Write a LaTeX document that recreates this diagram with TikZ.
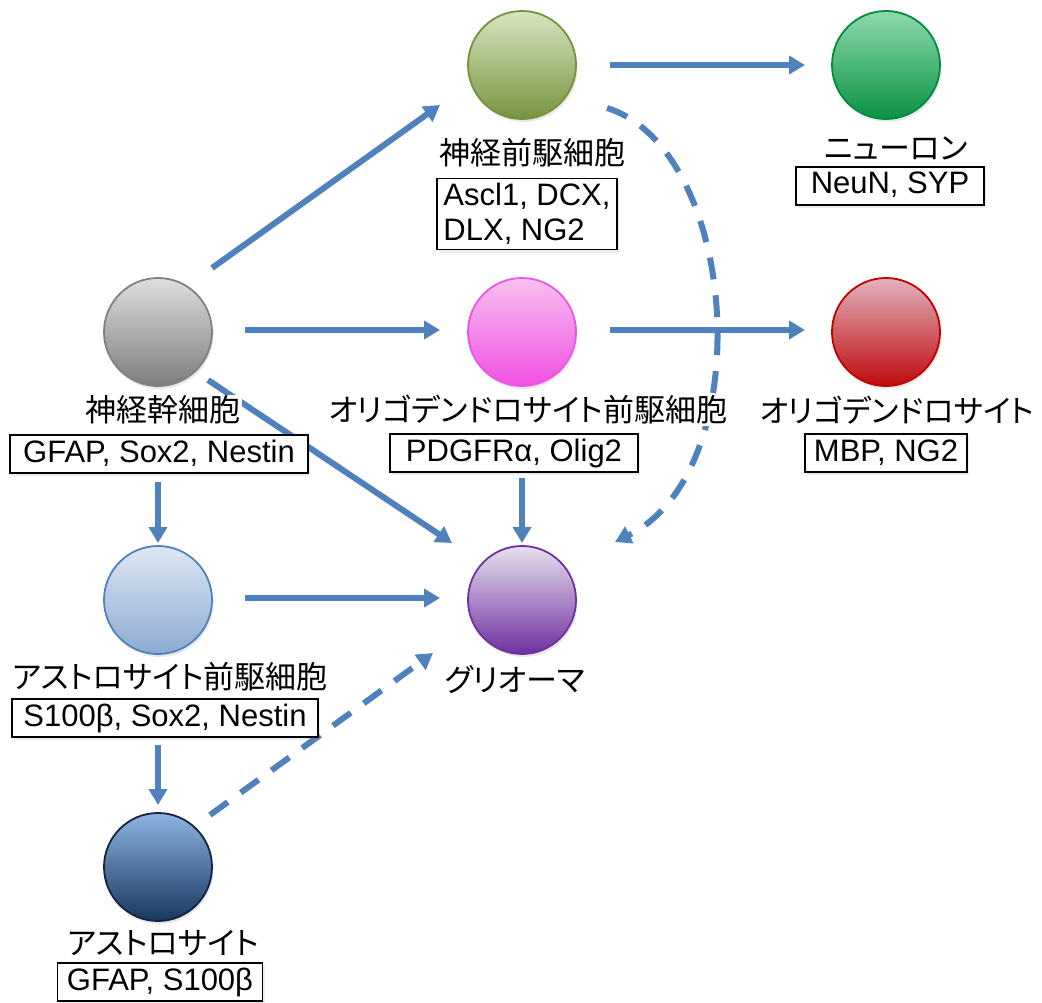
\documentclass[tikz,border=0pt]{standalone}
\usepackage{fontspec}
\setmainfont{Liberation Sans}
\newfontfamily\jp[RawFeature=+palt]{Noto Sans CJK JP}
\usetikzlibrary{arrows.meta,calc,shadows,backgrounds}
\definecolor{arrowblue}{RGB}{79,129,189}
\begin{document}
\begin{tikzpicture}[x=1pt,y=-1pt,
  cell/.style={circle, minimum size=108pt, inner sep=0pt, line width=1.8pt,
    drop shadow={shadow xshift=1.5pt,shadow yshift=-3pt,opacity=0.18}},
  lbl/.style={font=\jp\fontsize{31}{36}\selectfont, fill=white, inner sep=1pt},
  mbox/.style={draw, line width=1.5pt, fill=white, font=\fontsize{31}{35}\selectfont,
    inner xsep=6pt, inner ysep=4pt, text height=23pt, text depth=7pt,
    drop shadow={shadow xshift=2pt,shadow yshift=-3pt,opacity=0.15}},
  mbox2/.style={draw, line width=1.5pt, fill=white, font=\fontsize{31}{35}\selectfont,
    inner xsep=6pt, inner ysep=5pt, align=left,
    drop shadow={shadow xshift=2pt,shadow yshift=-3pt,opacity=0.15}},
  conn/.style={draw=arrowblue, line width=6pt, -{Triangle[length=16pt,width=18pt]}},
  dconn/.style={conn, dash pattern=on 22pt off 16pt}]
\useasboundingbox (0,0) rectangle (1042,1003);

% cells
\node[cell, top color={rgb,255:red,222;green,222;blue,222}, bottom color={rgb,255:red,125;green,125;blue,125}, draw={rgb,255:red,128;green,128;blue,128}] (stem) at (158,332) {};
\node[cell, top color={rgb,255:red,216;green,229;blue,192}, bottom color={rgb,255:red,118;green,148;blue,62}, draw={rgb,255:red,118;green,146;blue,60}] (npc) at (522,65) {};
\node[cell, top color={rgb,255:red,142;green,218;blue,172}, bottom color={rgb,255:red,10;green,146;blue,68}, draw={rgb,255:red,0;green,140;blue,62}] (neuron) at (886,65) {};
\node[cell, top color={rgb,255:red,248;green,192;blue,240}, bottom color={rgb,255:red,240;green,80;blue,226}, draw={rgb,255:red,236;green,84;blue,228}] (opc) at (522,332) {};
\node[cell, top color={rgb,255:red,226;green,178;blue,188}, bottom color={rgb,255:red,190;green,10;blue,14}, draw={rgb,255:red,192;green,0;blue,0}] (oligo) at (886,332) {};
\node[cell, top color={rgb,255:red,230;green,224;blue,238}, bottom color={rgb,255:red,112;green,48;blue,160}, draw={rgb,255:red,112;green,48;blue,160}] (glioma) at (522,600) {};
\node[cell, top color={rgb,255:red,222;green,231;blue,243}, bottom color={rgb,255:red,140;green,170;blue,210}, draw={rgb,255:red,79;green,129;blue,189}] (ap) at (158,600) {};
\node[cell, top color={rgb,255:red,141;green,180;blue,226}, bottom color={rgb,255:red,23;green,55;blue,94}, draw={rgb,255:red,18;green,36;blue,64}] (astro) at (158,867) {};

% labels
\node[lbl] (stemL) at (163,410) {神経幹細胞};
\node[mbox, minimum width=298pt] (stemB) at (159,454) {GFAP, Sox2, Nestin};
\node[lbl] (npcL) at (532,153) {神経前駆細胞};
\node[mbox2, minimum width=180pt] (npcB) at (527,214) {Ascl1, DCX,\\DLX, NG2};
\node[lbl] (neuronL) at (896,148) {ニューロン};
\node[mbox, minimum width=188pt] (neuronB) at (890,186) {NeuN, SYP};
\node[lbl] (opcL) at (528,410) {オリゴデンドロサイト前駆細胞};
\node[mbox, minimum width=248pt] (opcB) at (514,453) {PDGFRα, Olig2};
\node[lbl] (oligoL) at (897,410) {オリゴデンドロサイト};
\node[mbox, minimum width=162pt] (oligoB) at (886,453) {MBP, NG2};
\node[lbl] (gliomaL) at (515,680) {グリオーマ};
\node[lbl] (apL) at (170,677) {アストロサイト前駆細胞};
\node[mbox, minimum width=306pt] (apB) at (165,718) {S100β, Sox2, Nestin};
\node[lbl] (astroL) at (163,943) {アストロサイト};
\node[mbox, minimum width=205pt] (astroB) at (160,982) {GFAP, S100β};

% connectors
\begin{scope}[on background layer]
\draw[conn] ($(stem)+(54,-64)$) -- ($(npc)+(-82,40)$);
\draw[conn] ($(npc)+(88,0)$) -- ($(neuron)+(-81,0)$);
\draw[conn] ($(stem)+(87,-2)$) -- ($(opc)+(-82,-2)$);
\draw[conn] ($(opc)+(88,-2)$) -- ($(oligo)+(-81,-2)$);
\draw[conn] ($(stem)+(50,48)$) -- ($(glioma)+(-70,-57)$);
\draw[conn] ($(opc)+(0,146)$) -- ($(glioma)+(0,-57)$);
\draw[conn] ($(stem)+(0,150)$) -- ($(ap)+(0,-57)$);
\draw[conn] ($(ap)+(87,-2)$) -- ($(glioma)+(-82,-2)$);
\draw[conn] ($(ap)+(0,145)$) -- ($(astro)+(0,-62)$);
\draw[dconn] ($(astro)+(52,-52)$) -- ($(glioma)+(-89,53)$);
\draw[dconn] ($(npc)+(85,43)$) .. controls ($(npc)+(218,85)$) and ($(glioma)+(238,-130)$) .. ($(glioma)+(93,-58)$);
\end{scope}
\end{tikzpicture}
\end{document}
